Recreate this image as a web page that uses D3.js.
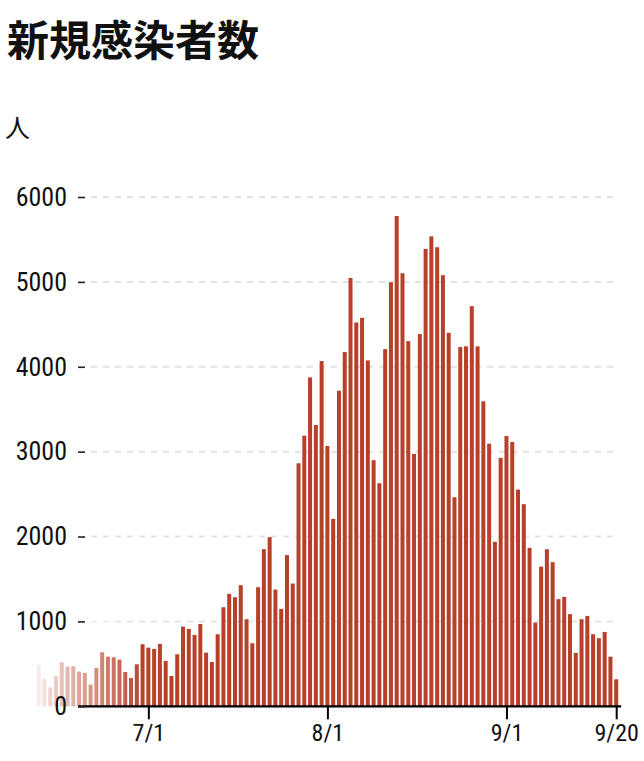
<!DOCTYPE html>
<html>
<head>
<meta charset="utf-8">
<script src="https://cdn.jsdelivr.net/npm/d3@7"></script>
<style>
  body { margin: 0; background: #fff; }
  svg { display: block; }
  .tick text { font-family: "Roboto Condensed", Roboto, "DejaVu Sans", sans-serif; font-weight: 400; }
</style>
</head>
<body>
<script>
// DATA (new cases per day, 2021/6/12 - 9/20)

const startDate = new Date(2021, 5, 12);
const juneCases = [487, 322, 224, 354, 519, 467, 472, 408, 393, 255, 452, 637, 585, 578, 550, 404, 334, 495, 731];
const julyCases = [691, 676, 735, 534, 357, 613, 939, 912, 841, 970, 632, 522, 849, 1167, 1324, 1285, 1427, 1026, 743, 1403,
  1851, 1993, 1375, 1147, 1781, 1446, 2863, 3188, 3875, 3314, 4067];
const augustCases = [3067, 2208, 3718, 4173, 5047, 4522, 4577, 4075, 2899, 2628, 4208, 4996, 5776, 5102, 4302, 2973, 4385,
  5388, 5537, 5408, 5079, 4400, 2463, 4232, 4240, 4714, 4240, 3593, 3094, 1938, 2926];
const septemberCases = [3185, 3114, 2553, 2381, 1867, 986, 1646, 1851, 1698, 1262, 1289, 1085, 629, 1026, 1065, 849, 802, 876, 585, 318];
const xTicks = ["2021-07-01", "2021-08-01", "2021-09-01", "2021-09-20"];
const yTicks = [0, 1000, 2000, 3000, 4000, 5000, 6000];

const cases = [...juneCases, ...julyCases, ...augustCases, ...septemberCases]
  .map((v, i) => ({ date: d3.timeDay.offset(startDate, i), value: v }));

// MAKE THE CHART

const W = 644;
const H = 761;
const barColor = "#b8402a";

const svg = d3.select("body")
  .append("svg")
  .attr("width", W)
  .attr("height", H);

const xScale = d3.scaleTime()
  .domain(d3.extent(cases, d => d.date))
  .range([38.6, 616.2]);

const yScale = d3.scaleLinear()
  .domain([0, 6000])
  .range([706.3, 197]);

const axisLeftX = 85;

// gridlines
svg.append("g")
  .selectAll("line")
  .data(yTicks.filter(t => t > 0))
  .enter()
  .append("line")
  .attr("x1", axisLeftX + 6)
  .attr("x2", 615)
  .attr("y1", d => yScale(d))
  .attr("y2", d => yScale(d))
  .attr("stroke", "#e2e2e2")
  .attr("stroke-width", 2)
  .attr("stroke-dasharray", "6,6");

// bars
const barW = 4;
svg.append("g")
  .selectAll("rect")
  .data(cases)
  .enter()
  .append("rect")
  .attr("x", d => xScale(d.date) - barW / 2)
  .attr("y", d => yScale(d.value))
  .attr("width", barW)
  .attr("height", d => yScale(0) - yScale(d.value))
  .attr("fill", barColor);

// fade on the left side
const grad = svg.append("defs")
  .append("linearGradient")
  .attr("id", "fade")
  .attr("x1", "0").attr("x2", "1").attr("y1", "0").attr("y2", "0");
[[0, 0.95], [0.25, 0.68], [0.5, 0.47], [0.75, 0.25], [1, 0]].forEach(s => {
  grad.append("stop")
    .attr("offset", s[0])
    .attr("stop-color", "#fff")
    .attr("stop-opacity", s[1]);
});

svg.append("rect")
  .attr("x", 33)
  .attr("y", yScale(1000) - 10)
  .attr("width", 110)
  .attr("height", yScale(0) - yScale(1000) + 12)
  .attr("fill", "url(#fade)");

// x axis
const xAxis = d3.axisBottom(xScale)
  .tickValues(xTicks.map(d => d3.timeParse("%Y-%m-%d")(d)))
  .tickFormat(d3.timeFormat("%-m/%-d"))
  .tickSize(13)
  .tickSizeOuter(0)
  .tickPadding(5);

const gx = svg.append("g")
  .attr("id", "x-axis")
  .attr("transform", `translate(0, ${yScale(0)})`)
  .call(xAxis);
gx.select(".domain")
  .attr("d", `M${axisLeftX - 7},0H${xScale.range()[1] + 5}`)
  .attr("stroke", "#000")
  .attr("stroke-width", 2.2);
gx.selectAll(".tick line").attr("stroke", "#000").attr("stroke-width", 2);
gx.selectAll(".tick text")
  .attr("fill", "#111")
  .style("font-size", "24px");

// y axis
const yAxis = d3.axisLeft(yScale)
  .tickValues(yTicks)
  .tickFormat(d3.format("d"))
  .tickSize(7)
  .tickPadding(11);

const gy = svg.append("g")
  .attr("id", "y-axis")
  .attr("transform", `translate(${axisLeftX}, 0)`)
  .call(yAxis);
gy.select(".domain").remove();
gy.selectAll(".tick line").attr("stroke", "#222").attr("stroke-width", 1.6);
gy.selectAll(".tick text")
  .attr("fill", "#111")
  .style("font-size", "26px");

// titles
svg.append("text")
  .text("新規感染者数")
  .attr("x", 7)
  .attr("y", 56)
  .style("font-family", "'Noto Sans CJK JP', sans-serif")
  .style("font-weight", 700)
  .style("font-size", "42px")
  .attr("fill", "#111");

svg.append("text")
  .text("人")
  .attr("x", 5)
  .attr("y", 137)
  .style("font-family", "'Noto Sans CJK JP', sans-serif")
  .style("font-size", "25px")
  .attr("fill", "#111");
</script>
</body>
</html>
